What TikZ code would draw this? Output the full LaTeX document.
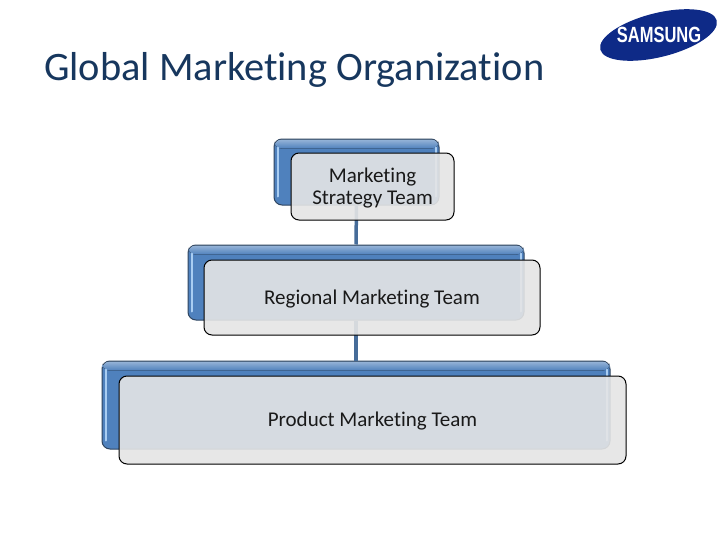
\documentclass[tikz,border=0pt]{standalone}
\usepackage{fontspec}
\setmainfont[Ligatures=NoCommon]{Carlito}
\newfontfamily\logofont{Liberation Sans}
\usetikzlibrary{shapes.geometric}
\definecolor{titleblue}{HTML}{17375E}
\definecolor{barblue}{HTML}{4F81BD}
\definecolor{barlight}{HTML}{A9CDF2}
\definecolor{barline}{HTML}{2F4560}
\definecolor{linkblue}{HTML}{466C99}
\definecolor{frontgray}{HTML}{E5E5E5}
\definecolor{logoblue}{HTML}{0E2A87}
\newcommand{\lowtext}[1]{\raisebox{-1.5pt}[\height][\depth]{#1}}
\tikzset{
  backbox/.style={draw=barline,line width=1pt,fill=barblue,rounded corners=8pt,inner sep=0pt},
  frontbox/.style={draw=black,line width=1pt,fill=frontgray,fill opacity=.9,text opacity=1,rounded corners=8pt,inner sep=0pt,align=center,text=black!90,font=\fontsize{21}{22.5}\selectfont},
  link/.style={draw=linkblue,line width=3.5pt},
  shine/.style={draw=barlight,line width=2pt,line cap=round},
  topband/.style={draw=none,top color=barblue!60!white,bottom color=barblue},
}
\begin{document}
\begin{tikzpicture}[x=1pt,y=-1pt]
\useasboundingbox (0,0) rectangle (728,546);
\fill[white] (0,0) rectangle (728,546);
\node[anchor=base west,inner sep=0pt,text=titleblue,font=\fontsize{40.4}{42}\selectfont] (title) at (44,80) {Global Marketing Organization};
% logo
\node[ellipse,fill=logoblue,minimum width=120pt,minimum height=44pt,rotate=14,inner sep=0pt] (logo) at (658.5,35) {};
\node[text=white,inner sep=0pt,font=\logofont\bfseries\fontsize{22}{22}\selectfont,xscale=.75] (logotext) at (659,35) {SAMSUNG};
% back boxes
\node[backbox,minimum width=165pt,minimum height=66pt] (a) at (356.5,172) {};
\node[backbox,minimum width=336pt,minimum height=75pt] (b) at (356,282.5) {};
\node[backbox,minimum width=508pt,minimum height=88pt] (c) at (356,405) {};
% connectors
\draw[link] (a.south) -- (b.north);
\draw[link] (b.south) -- (c.north);
% bevels
\foreach \n in {a,b,c}{
  \fill[topband,rounded corners=7pt] ([xshift=1pt,yshift=-1pt]\n.north west) rectangle ([xshift=-1pt,yshift=-10pt]\n.north east);
  \draw[shine] ([xshift=4pt,yshift=-9pt]\n.north west) -- ([xshift=4pt,yshift=9pt]\n.south west);
  \draw[shine] ([xshift=-4pt,yshift=-9pt]\n.north east) -- ([xshift=-4pt,yshift=9pt]\n.south east);
}
% front boxes
\node[frontbox,minimum width=163pt,minimum height=67pt] (af) at (372.5,186.5) {\lowtext{Marketing}\\\lowtext{Strategy Team}};
\node[frontbox,minimum width=336pt,minimum height=75pt] (bf) at (372,297.5) {\lowtext{Regional Marketing Team}};
\node[frontbox,minimum width=507pt,minimum height=88pt] (cf) at (372.5,420) {\lowtext{Product Marketing Team}};
\end{tikzpicture}
\end{document}
